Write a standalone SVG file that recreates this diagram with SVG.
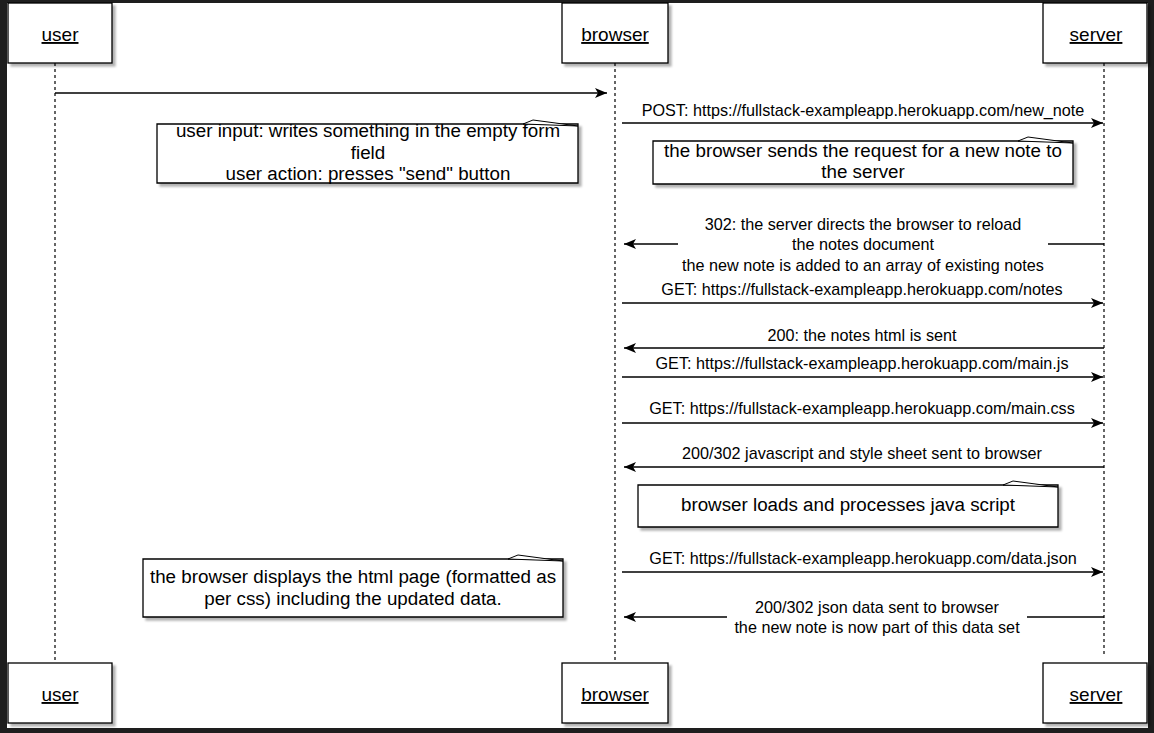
<svg xmlns="http://www.w3.org/2000/svg" width="1154" height="733" viewBox="0 0 1154 733">
<defs>
<style>
.bg{fill:#1e1e1e}
.page{fill:#ffffff}
.box{fill:#ffffff;stroke:#000;stroke-width:1.3;filter:url(#sh)}
.note{fill:#ffffff;stroke:#000;stroke-width:1.3;filter:url(#sh)}
.fold{fill:#ffffff;stroke:#000;stroke-width:1}
.life{stroke:#000;stroke-width:1.2;stroke-dasharray:3 3;fill:none}
.msg{stroke:#000;stroke-width:1.3;fill:none;marker-end:url(#ah)}
.hd{font-family:"Liberation Sans",Arial,sans-serif;font-size:19px;text-anchor:middle;text-decoration:underline;fill:#000}
.lb{font-family:"Liberation Sans",Arial,sans-serif;font-size:16.2px;text-anchor:middle;fill:#000}
.nt{font-family:"Liberation Sans",Arial,sans-serif;font-size:18.8px;text-anchor:middle;fill:#000}
</style>
<filter id="sh" x="-5%" y="-10%" width="115%" height="130%">
<feDropShadow dx="3" dy="3" stdDeviation="1.2" flood-color="#000" flood-opacity="0.3"/>
</filter>
<marker id="ah" markerUnits="userSpaceOnUse" markerWidth="14" markerHeight="12" refX="12" refY="5" orient="auto">
<path d="M0,0 L12,5 L0,10 L3,5 Z" fill="#000"/>
</marker>
</defs>
<rect class="bg" x="0" y="0" width="1154" height="733"/>
<rect class="page" x="7" y="3" width="1141" height="725"/>

<g id="lifelines">
<line class="life" x1="55" y1="63" x2="55" y2="663"/>
<line class="life" x1="615" y1="63" x2="615" y2="663"/>
<line class="life" x1="1104" y1="63" x2="1104" y2="655"/>
</g>

<g id="user-top"><rect class="box" x="8" y="3" width="104" height="60"/><text class="hd" x="60" y="41">user</text></g>
<g id="browser-top"><rect class="box" x="562" y="3" width="106" height="60"/><text class="hd" x="615" y="41">browser</text></g>
<g id="server-top"><rect class="box" x="1043" y="3" width="104" height="60"/><text class="hd" x="1096" y="41">server</text></g>
<g id="user-bottom"><rect class="box" x="8" y="663" width="104" height="60"/><text class="hd" x="60" y="701">user</text></g>
<g id="browser-bottom"><rect class="box" x="562" y="663" width="106" height="60"/><text class="hd" x="615" y="701">browser</text></g>
<g id="server-bottom"><rect class="box" x="1043" y="663" width="104" height="60"/><text class="hd" x="1096" y="701">server</text></g>

<g id="connectors">
<line class="msg" x1="55" y1="93" x2="607" y2="93"/>
<line class="msg" x1="622" y1="123" x2="1103" y2="123"/>
<line class="msg" x1="1104" y1="244" x2="624" y2="244"/>
<line class="msg" x1="622" y1="303" x2="1103" y2="303"/>
<line class="msg" x1="1104" y1="348" x2="624" y2="348"/>
<line class="msg" x1="622" y1="377" x2="1103" y2="377"/>
<line class="msg" x1="622" y1="423" x2="1103" y2="423"/>
<line class="msg" x1="1104" y1="467" x2="624" y2="467"/>
<line class="msg" x1="622" y1="572" x2="1103" y2="572"/>
<line class="msg" x1="1104" y1="617" x2="624" y2="617"/>
</g>

<g id="labels">
<text class="lb" x="863" y="116">POST: https://fullstack-exampleapp.herokuapp.com/new_note</text>
<rect x="678" y="214" width="370" height="62" fill="#fff"/>
<text class="lb" x="863" y="230">302: the server directs the browser to reload</text>
<text class="lb" x="863" y="250">the notes document</text>
<text class="lb" x="863" y="271">the new note is added to an array of existing notes</text>
<text class="lb" x="862" y="295">GET: https://fullstack-exampleapp.herokuapp.com/notes</text>
<text class="lb" x="862" y="341">200: the notes html is sent</text>
<text class="lb" x="862" y="369">GET: https://fullstack-exampleapp.herokuapp.com/main.js</text>
<text class="lb" x="862" y="414">GET: https://fullstack-exampleapp.herokuapp.com/main.css</text>
<text class="lb" x="862" y="459">200/302 javascript and style sheet sent to browser</text>
<text class="lb" x="863" y="564">GET: https://fullstack-exampleapp.herokuapp.com/data.json</text>
<rect x="727" y="598" width="300" height="42" fill="#fff"/>
<text class="lb" x="877" y="613">200/302 json data sent to browser</text>
<text class="lb" x="877" y="633">the new note is now part of this data set</text>
</g>

<g id="note-user-input">
<path class="note" d="M157,124 H578 V183 H157 Z"/>
<text class="nt" x="368" y="137">user input: writes something in the empty form</text>
<text class="nt" x="368" y="159">field</text>
<text class="nt" x="368" y="180">user action: presses "send" button</text>
<path class="fold" d="M523,124 L533,120 L578,126 Z"/>
</g>

<g id="note-browser-sends">
<path class="note" d="M653,141 H1073 V184 H653 Z"/>
<text class="nt" x="863" y="157">the browser sends the request for a new note to</text>
<text class="nt" x="863" y="178">the server</text>
<path class="fold" d="M1018,141 L1028,137 L1073,143 Z"/>
</g>

<g id="note-browser-loads">
<path class="note" d="M638,485 H1058 V527 H638 Z"/>
<text class="nt" x="848" y="511">browser loads and processes java script</text>
<path class="fold" d="M1003,485 L1013,481 L1058,487 Z"/>
</g>

<g id="note-browser-displays">
<path class="note" d="M143,559 H563 V617 H143 Z"/>
<text class="nt" x="353" y="583">the browser displays the html page (formatted as</text>
<text class="nt" x="353" y="605">per css) including the updated data.</text>
<path class="fold" d="M508,559 L518,555 L563,561 Z"/>
</g>
</svg>
